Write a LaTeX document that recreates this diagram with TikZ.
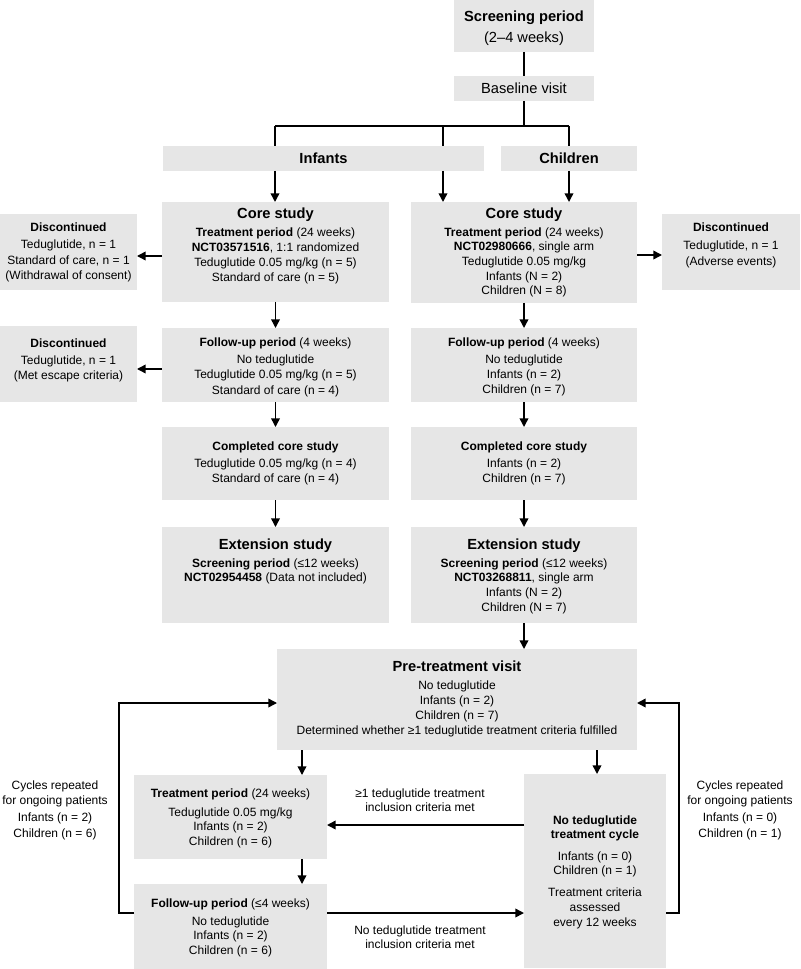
\documentclass[tikz,border=0pt]{standalone}
\usepackage{fontspec}
\setmainfont{Liberation Sans}
\usetikzlibrary{arrows.meta,fit}
\definecolor{boxgray}{RGB}{230,230,230}
\begin{document}
\begin{tikzpicture}[x=0.75pt,y=-0.75pt,
  box/.style={fill=boxgray, draw=none, inner sep=0pt, outer sep=0pt},
  t/.style={font=\fontsize{9}{11}\selectfont, anchor=base, inner sep=0pt},
  tb/.style={font=\fontsize{9}{11}\selectfont\bfseries, anchor=base, inner sep=0pt},
  th/.style={font=\fontsize{11}{13}\selectfont\bfseries, anchor=base, inner sep=0pt},
  tm/.style={font=\fontsize{11}{13}\selectfont, anchor=base, inner sep=0pt},
  ln/.style={line width=1.1pt},
  arr/.style={line width=1.1pt, -{Triangle[length=6.5pt,width=6.5pt]}}]
\useasboundingbox (0,0) rectangle (800,969);
% boxes
\node[box,fit={(454,0)(594,52)}] (scr) {};
\node[box,fit={(454,76)(594,101)}] (base) {};
\node[box,fit={(163,146)(484,171)}] (inf) {};
\node[box,fit={(501,146)(637,171)}] (chi) {};
\node[box,fit={(162,202)(389,302)}] (cI) {};
\node[box,fit={(411,202)(637,303)}] (cC) {};
\node[box,fit={(0,214)(137,290)}] (d1) {};
\node[box,fit={(662,214)(800,290)}] (d3) {};
\node[box,fit={(0,326)(137,402)}] (d2) {};
\node[box,fit={(162,328)(389,402)}] (fI) {};
\node[box,fit={(411,328)(637,402)}] (fC) {};
\node[box,fit={(162,427)(389,500)}] (pI) {};
\node[box,fit={(411,427)(637,500)}] (pC) {};
\node[box,fit={(162,527)(389,623)}] (eI) {};
\node[box,fit={(411,527)(637,623)}] (eC) {};
\node[box,fit={(277,649)(637,750)}] (pre) {};
\node[box,fit={(134,775)(327,859)}] (tr) {};
\node[box,fit={(134,884)(327,969)}] (fu) {};
\node[box,fit={(524,774)(666,968)}] (nt) {};
% texts
\node[th] (scr1) at (524,21.5) {Screening period};
\node[tm] (scr2) at (524,42.5) {(2–4 weeks)};
\node[tm] (base1) at (524,93.5) {Baseline visit};
\node[th] (inf1) at (323.5,164) {Infants};
\node[th] (chi1) at (569,164) {Children};
\node[th] (cI1) at (275.5,218.5) {Core study};
\node[t] (cI2) at (275.5,236.5) {\textbf{Treatment period} (24 weeks)};
\node[t] (cI3) at (275.5,251.5) {\textbf{NCT03571516}, 1:1 randomized};
\node[t] (cI4) at (275.5,266.5) {Teduglutide 0.05 mg/kg (n = 5)};
\node[t] (cI5) at (275.5,281.5) {Standard of care (n = 5)};
\node[th] (cC1) at (524,218.5) {Core study};
\node[t] (cC2) at (524,236.5) {\textbf{Treatment period} (24 weeks)};
\node[t] (cC3) at (524,250.5) {\textbf{NCT02980666}, single arm};
\node[t] (cC4) at (524,265.5) {Teduglutide 0.05 mg/kg};
\node[t] (cC5) at (524,280.5) {Infants (N = 2)};
\node[t] (cC6) at (524,294.5) {Children (N = 8)};
\node[tb] (d11) at (68.5,231.5) {Discontinued};
\node[t] (d12) at (68.5,248.5) {Teduglutide, n = 1};
\node[t] (d13) at (68.5,264.5) {Standard of care, n = 1};
\node[t] (d14) at (68.5,279.5) {(Withdrawal of consent)};
\node[tb] (d31) at (731,231.5) {Discontinued};
\node[t] (d32) at (731,249.5) {Teduglutide, n = 1};
\node[t] (d33) at (731,265.5) {(Adverse events)};
\node[tb] (d21) at (68.5,347.5) {Discontinued};
\node[t] (d22) at (68.5,364.5) {Teduglutide, n = 1};
\node[t] (d23) at (68.5,379.5) {(Met escape criteria)};
\node[t] (fI1) at (275.5,346.5) {\textbf{Follow-up period} (4 weeks)};
\node[t] (fI2) at (275.5,363.5) {No teduglutide};
\node[t] (fI3) at (275.5,378.5) {Teduglutide 0.05 mg/kg (n = 5)};
\node[t] (fI4) at (275.5,394.5) {Standard of care (n = 4)};
\node[t] (fC1) at (524,346.5) {\textbf{Follow-up period} (4 weeks)};
\node[t] (fC2) at (524,363.5) {No teduglutide};
\node[t] (fC3) at (524,378.5) {Infants (n = 2)};
\node[t] (fC4) at (524,393.5) {Children (n = 7)};
\node[tb] (pI1) at (275.5,450.5) {Completed core study};
\node[t] (pI2) at (275.5,467.5) {Teduglutide 0.05 mg/kg (n = 4)};
\node[t] (pI3) at (275.5,482.5) {Standard of care (n = 4)};
\node[tb] (pC1) at (524,450.5) {Completed core study};
\node[t] (pC2) at (524,467.5) {Infants (n = 2)};
\node[t] (pC3) at (524,482.5) {Children (n = 7)};
\node[th] (eI1) at (275.5,549.5) {Extension study};
\node[t] (eI2) at (275.5,567.5) {\textbf{Screening period} (≤12 weeks)};
\node[t] (eI3) at (275.5,581.5) {\textbf{NCT02954458} (Data not included)};
\node[th] (eC1) at (524,549.5) {Extension study};
\node[t] (eC2) at (524,567.5) {\textbf{Screening period} (≤12 weeks)};
\node[t] (eC3) at (524,581.5) {\textbf{NCT03268811}, single arm};
\node[t] (eC4) at (524,596.5) {Infants (N = 2)};
\node[t] (eC5) at (524,611.5) {Children (N = 7)};
\node[th] (pre1) at (457,671.5) {Pre-treatment visit};
\node[t] (pre2) at (457,689.5) {No teduglutide};
\node[t] (pre3) at (457,704.5) {Infants (n = 2)};
\node[t] (pre4) at (457,719.5) {Children (n = 7)};
\node[t] (pre5) at (457,734.5) {Determined whether ≥1 teduglutide treatment criteria fulfilled};
\node[t] (tr1) at (230.5,797.5) {\textbf{Treatment period} (24 weeks)};
\node[t] (tr2) at (230.5,816.5) {Teduglutide 0.05 mg/kg};
\node[t] (tr3) at (230.5,830.5) {Infants (n = 2)};
\node[t] (tr4) at (230.5,845.5) {Children (n = 6)};
\node[t] (fu1) at (230.5,907.5) {\textbf{Follow-up period} (≤4 weeks)};
\node[t] (fu2) at (230.5,925.5) {No teduglutide};
\node[t] (fu3) at (230.5,939.5) {Infants (n = 2)};
\node[t] (fu4) at (230.5,954.5) {Children (n = 6)};
\node[tb] (nt1) at (595,824.5) {No teduglutide};
\node[tb] (nt2) at (595,838.5) {treatment cycle};
\node[t] (nt3) at (595,860.5) {Infants (n = 0)};
\node[t] (nt4) at (595,874.5) {Children (n = 1)};
\node[t] (nt5) at (595,896.5) {Treatment criteria};
\node[t] (nt6) at (595,911.5) {assessed};
\node[t] (nt7) at (595,926.5) {every 12 weeks};
\node[t] (lb1) at (420,797.5) {≥1 teduglutide treatment};
\node[t] (lb2) at (420,811.5) {inclusion criteria met};
\node[t] (lb3) at (420,934.5) {No teduglutide treatment};
\node[t] (lb4) at (420,948.5) {inclusion criteria met};
\node[t] (lc1) at (55,789.5) {Cycles repeated};
\node[t] (lc2) at (55,804.5) {for ongoing patients};
\node[t] (lc3) at (55,821.5) {Infants (n = 2)};
\node[t] (lc4) at (55,837.5) {Children (n = 6)};
\node[t] (rc1) at (740,789.5) {Cycles repeated};
\node[t] (rc2) at (740,804.5) {for ongoing patients};
\node[t] (rc3) at (740,821.5) {Infants (n = 0)};
\node[t] (rc4) at (740,837.5) {Children (n = 1)};
% coordinates
\coordinate (hL) at (275,126);
\coordinate (hM) at (443,126);
\coordinate (hR) at (569,126);
\coordinate (hC) at (524,126);
\coordinate (a1) at (0,256);
\coordinate (a3) at (0,255);
\coordinate (a2) at (0,369);
\coordinate (x1) at (302,0);
\coordinate (x2) at (597,0);
\coordinate (y1) at (0,825);
\coordinate (y2) at (0,913);
\coordinate (y3) at (0,703);
\coordinate (lx) at (119,0);
\coordinate (rx) at (679,0);
% connectors
\draw[ln] (scr.south) -- (base.north);
\draw[ln] (base.south) -- (hC);
\draw[ln] (hL) -- (hR);
\draw[ln] (hL) -- (hL |- inf.north);
\draw[ln] (hM) -- (hM |- inf.north);
\draw[ln] (hR) -- (hR |- chi.north);
\draw[arr] (hL |- inf.south) -- (hL |- cI.north);
\draw[arr] (hM |- inf.south) -- (hM |- cC.north);
\draw[arr] (hR |- chi.south) -- (hR |- cC.north);
\draw[arr] (cI.west |- a1) -- (d1.east |- a1);
\draw[arr] (cC.east |- a3) -- (d3.west |- a3);
\draw[arr] (fI.west |- a2) -- (d2.east |- a2);
\draw[arr] (cI.south) -- (fI.north);
\draw[arr] (cC.south) -- (fC.north);
\draw[arr] (fI.south) -- (pI.north);
\draw[arr] (fC.south) -- (pC.north);
\draw[arr] (pI.south) -- (eI.north);
\draw[arr] (pC.south) -- (eC.north);
\draw[arr] (eC.south) -- (eC.south |- pre.north);
\draw[arr] (pre.south -| x1) -- (tr.north -| x1);
\draw[arr] (pre.south -| x2) -- (nt.north -| x2);
\draw[arr] (tr.south -| x1) -- (fu.north -| x1);
\draw[arr] (nt.west |- y1) -- (tr.east |- y1);
\draw[arr] (fu.east |- y2) -- (nt.west |- y2);
\draw[arr] (fu.west |- y2) -| (lx |- y3) -- (pre.west |- y3);
\draw[arr] (nt.east |- y2) -| (rx |- y3) -- (pre.east |- y3);
\end{tikzpicture}
\end{document}
